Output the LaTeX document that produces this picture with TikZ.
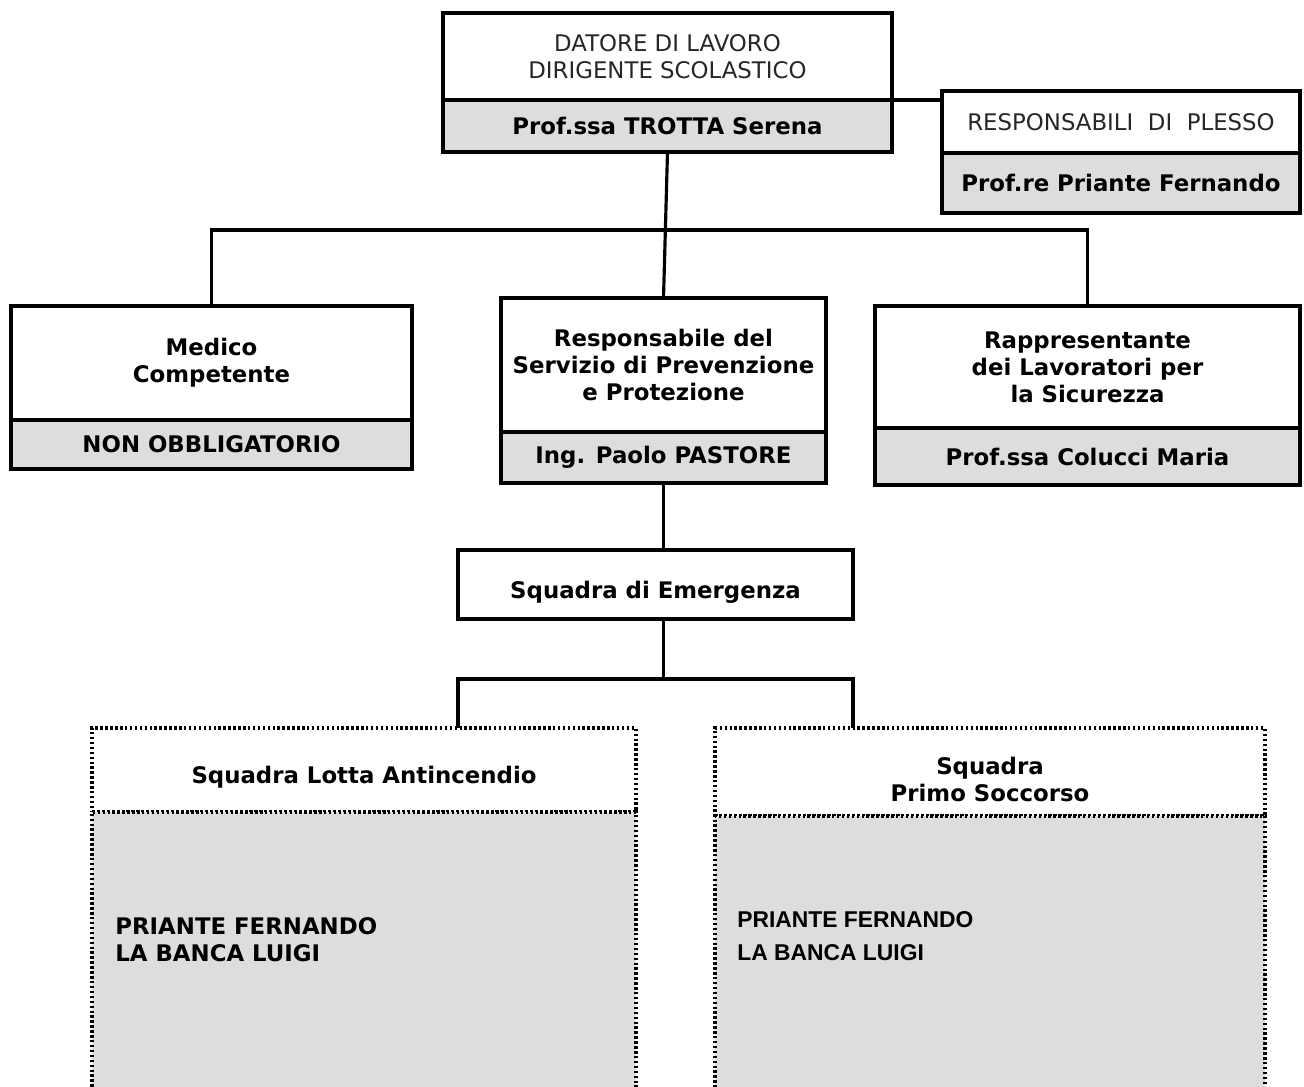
\documentclass[tikz,border=0pt]{standalone}
\usepackage{fontspec}
\setmainfont{DejaVu Sans}
\newfontfamily\arialfont{Liberation Sans}
\usetikzlibrary{positioning}
\definecolor{boxgray}{RGB}{221,221,221}

\begin{document}
\begin{tikzpicture}[x=0.02cm, y=-0.02cm,
    box/.style={draw, line width=1.8pt, outer sep=0pt, inner sep=2pt, align=center},
    titlebox/.style={box, fill=white, font=\bfseries\fontsize{13}{15.3}\selectfont},
    lightbox/.style={box, fill=white, text=black!85, font=\fontsize{13}{15.3}\selectfont},
    namebox/.style={box, fill=boxgray, font=\bfseries\fontsize{13}{15.3}\selectfont},
    teambox/.style={titlebox, line width=1.9pt, dash pattern=on 1.4pt off 1.4pt},
    listbox/.style={box, fill=boxgray, line width=1.9pt, dash pattern=on 1.4pt off 1.4pt},
    names/.style={inner sep=0pt, align=left, anchor=north west},
    conn/.style={line width=1.8pt}
  ]
  \clip (0,0) rectangle (1304,1086);

  % vertice
  \node[lightbox, minimum width=8.98cm, minimum height=1.74cm] (datore) at (667.5,56.5)
    {DATORE DI LAVORO\\DIRIGENTE SCOLASTICO};
  \node[namebox, minimum width=8.98cm, minimum height=1.04cm, below=0pt of datore] (trotta)
    {Prof.ssa TROTTA Serena};

  \node[lightbox, minimum width=7.16cm, minimum height=1.24cm] (plesso) at (1121,122)
    {RESPONSABILI~~DI~~PLESSO};
  \node[namebox, minimum width=7.16cm, minimum height=1.2cm, below=0pt of plesso] (priante)
    {Prof.re Priante Fernando};

  % secondo livello
  \node[titlebox, minimum width=8.02cm, minimum height=2.28cm] (medico) at (211.5,363)
    {Medico\\Competente};
  \node[namebox, minimum width=8.02cm, minimum height=0.98cm, below=0pt of medico] (nonobbl)
    {NON OBBLIGATORIO};

  \node[titlebox, minimum width=6.5cm, minimum height=2.68cm] (rspp) at (663.5,365)
    {Responsabile del\\Servizio di Prevenzione\\e Protezione};
  \node[namebox, minimum width=6.5cm, minimum height=1.02cm, below=0pt of rspp] (pastore)
    {Ing. Paolo PASTORE};

  \node[titlebox, minimum width=8.5cm, minimum height=2.44cm] (rls) at (1087.5,367)
    {Rappresentante\\dei Lavoratori per\\la Sicurezza};
  \node[namebox, minimum width=8.5cm, minimum height=1.14cm, below=0pt of rls] (colucci)
    {Prof.ssa Colucci Maria};

  % squadre
  \node[titlebox, minimum width=7.9cm, minimum height=1.38cm, text height=19pt, text depth=3pt] (emerg) at (655.5,584.5)
    {Squadra di Emergenza};

  \node[teambox, minimum width=10.88cm, minimum height=1.68cm, text height=18pt, text depth=3pt] (antinc) at (364,770)
    {Squadra Lotta Antincendio};
  \node[listbox, minimum width=10.88cm, minimum height=5.76cm, below=0pt of antinc] (antlist) {};
  \node[names, font=\bfseries\fontsize{13}{15.3}\selectfont,
        below right=2.1cm and 0.46cm of antlist.north west] (antnames)
    {PRIANTE FERNANDO\\LA BANCA LUIGI};

  \node[teambox, minimum width=11cm, minimum height=1.76cm, text height=33pt, text depth=0pt] (primo) at (990,772)
    {Squadra\\Primo Soccorso};
  \node[listbox, minimum width=11cm, minimum height=5.68cm, below=0pt of primo] (primolist) {};
  \node[names, font=\arialfont\bfseries\fontsize{13}{18.7}\selectfont,
        below right=1.9cm and 0.44cm of primolist.north west] (primonames)
    {PRIANTE FERNANDO\\LA BANCA LUIGI};

  % collegamenti
  \draw[conn] (trotta.north east) -- (trotta.north east -| plesso.west);
  \draw[conn] (trotta.south) -- (rspp.north);
  \draw[conn] (medico.north) -- ++(0,-76) -| (rls.north);
  \draw[conn] (pastore.south) -- (pastore.south |- emerg.north);
  \draw[conn] (emerg.south -| pastore.south) -- ++(0,60) coordinate (fork);
  \draw[conn] (antinc.north -| emerg.west) |- (fork) -| (primo.north -| emerg.east);
\end{tikzpicture}
\end{document}
